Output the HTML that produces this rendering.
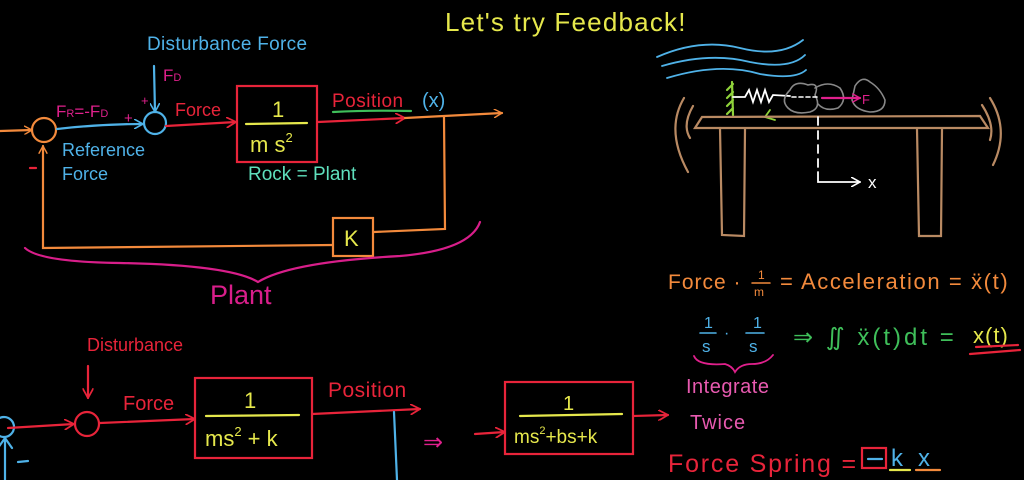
<!DOCTYPE html>
<html><head><meta charset="utf-8"><style>
html,body{margin:0;padding:0;background:#000;width:1024px;height:480px;overflow:hidden}
svg{display:block}
text{font-family:"Liberation Sans",sans-serif}
</style></head><body>
<svg width="1024" height="480" viewBox="0 0 1024 480" xmlns="http://www.w3.org/2000/svg">
<defs>
<marker id="ao" viewBox="0 0 10 10" refX="9" refY="5" markerWidth="9" markerHeight="9" orient="auto" markerUnits="userSpaceOnUse"><path d="M0,0 L9,5 L0,10" fill="none" stroke="#f38a3c" stroke-width="1.6"/></marker>
<marker id="ar" viewBox="0 0 10 10" refX="9" refY="5" markerWidth="11" markerHeight="11" orient="auto" markerUnits="userSpaceOnUse"><path d="M0,0 L9,5 L0,10" fill="none" stroke="#e8243a" stroke-width="1.6"/></marker>
<marker id="ab" viewBox="0 0 10 10" refX="9" refY="5" markerWidth="10" markerHeight="10" orient="auto" markerUnits="userSpaceOnUse"><path d="M0,0 L9,5 L0,10" fill="none" stroke="#4fb2e8" stroke-width="1.6"/></marker>
<marker id="aw" viewBox="0 0 10 10" refX="9" refY="5" markerWidth="10" markerHeight="10" orient="auto" markerUnits="userSpaceOnUse"><path d="M0,0 L9,5 L0,10" fill="none" stroke="#fff" stroke-width="1.6"/></marker>
<marker id="am" viewBox="0 0 10 10" refX="9" refY="5" markerWidth="9" markerHeight="9" orient="auto" markerUnits="userSpaceOnUse"><path d="M0,0 L9,5 L0,10" fill="none" stroke="#e0208c" stroke-width="1.6"/></marker>
</defs>
<g fill="none" stroke-linecap="round" stroke-width="2.2">
<text x="445" y="31" fill="#e6e84c" stroke="none" font-size="26" letter-spacing="1.2">Let's try Feedback!</text>

<text x="147" y="50" fill="#4fb2e8" stroke="none" font-size="19" letter-spacing="0.3">Disturbance Force</text>
<text x="163" y="81" fill="#e0208c" stroke="none" font-size="17">F<tspan font-size="11">D</tspan></text>
<path d="M154,66 L155,112" stroke="#4fb2e8" marker-end="url(#ab)"/>
<text x="141" y="105" fill="#e0208c" stroke="none" font-size="13">+</text>
<circle cx="155" cy="123" r="11" stroke="#4fb2e8"/>
<circle cx="44" cy="130" r="12" stroke="#f38a3c"/>
<path d="M0,131 L32,130" stroke="#f38a3c" marker-end="url(#ao)"/>
<path d="M57,129 Q100,124 143,124" stroke="#4fb2e8" marker-end="url(#ab)"/>
<text x="56" y="117" fill="#e0208c" stroke="none" font-size="17">F<tspan font-size="11">R</tspan>=-F<tspan font-size="11">D</tspan></text>
<text x="124" y="123" fill="#e0208c" stroke="none" font-size="15">+</text>
<text x="62" y="156" fill="#4fb2e8" stroke="none" font-size="18">Reference</text>
<text x="62" y="180" fill="#4fb2e8" stroke="none" font-size="18">Force</text>
<path d="M30,168 L36,168" stroke="#e8243a"/>
<path d="M166,126 L236,122" stroke="#e8243a" marker-end="url(#ar)"/>
<text x="175" y="116" fill="#e8243a" stroke="none" font-size="18">Force</text>
<rect x="237" y="86" width="80" height="76" stroke="#e8243a"/>
<text x="272" y="117" fill="#e6e84c" stroke="none" font-size="22">1</text>
<path d="M246,124 L307,123" stroke="#e6e84c"/>
<text x="250" y="152" fill="#e6e84c" stroke="none" font-size="22">m s<tspan font-size="13" dy="-10">2</tspan></text>
<text x="248" y="180" fill="#5fe0bd" stroke="none" font-size="19">Rock = Plant</text>
<path d="M318,122 L405,118" stroke="#e8243a" marker-end="url(#ar)"/>
<text x="332" y="107" fill="#e8243a" stroke="none" font-size="19" letter-spacing="0.5">Position</text>
<path d="M333,112 Q370,110 411,111" stroke="#3fbf5a"/>
<text x="422" y="107" fill="#4fb2e8" stroke="none" font-size="20">(x)</text>
<path d="M405,118 L502,113" stroke="#f38a3c" marker-end="url(#ao)"/>
<path d="M444,117 L445,229 L374,232" stroke="#f38a3c"/>
<rect x="333" y="218" width="40" height="38" stroke="#f38a3c"/>
<text x="344" y="246" fill="#e6e84c" stroke="none" font-size="22">K</text>
<path d="M333,245 L43,248 L43,146" stroke="#f38a3c" marker-end="url(#ao)"/>
<path d="M25,248 Q40,262 120,263 Q230,265 258,282 Q290,262 400,256 Q470,250 480,222" stroke="#d81e8a"/>
<text x="210" y="304" fill="#d81e8a" stroke="none" font-size="27">Plant</text>

<path d="M657,57 Q700,38 740,48 Q780,58 803,40" stroke="#4fb2e8" stroke-width="1.8"/>
<path d="M662,66 Q710,52 750,62 Q790,70 805,55" stroke="#4fb2e8" stroke-width="1.8"/>
<path d="M667,78 Q720,62 760,74 Q795,80 806,70" stroke="#4fb2e8" stroke-width="1.8"/>
<path d="M732,82 L733,115 M733,84 L727,90 M733,92 L727,98 M733,100 L727,106 M733,108 L727,114" stroke="#8fd33a"/>
<path d="M733,97 L745,97 L749,90 L753,102 L757,90 L761,102 L765,90 L769,102 L773,95 L790,96" stroke="#fff" stroke-width="1.8"/>
<path d="M770,110 L765,117 L775,120" stroke="#8fd33a" stroke-width="1.8"/>
<path d="M790,90 Q795,80 808,85 Q820,82 815,95 Q822,108 810,112 Q795,115 788,108 Q780,100 790,90 Z" stroke="#888" stroke-width="1.6"/>
<path d="M815,88 Q828,80 840,88 Q848,100 838,108 Q825,112 818,104" stroke="#888" stroke-width="1.6"/>
<path d="M855,86 Q862,75 870,82 Q880,88 885,100 Q885,112 870,112 Q855,110 852,100 Z" stroke="#888" stroke-width="1.6"/>
<path d="M792,97 L820,97" stroke="#fff" stroke-width="1.6" stroke-dasharray="4 3"/>
<path d="M822,98 L860,98" stroke="#e0208c" marker-end="url(#am)"/>
<text x="862" y="104" fill="#e0208c" stroke="none" font-size="13">F</text>
<path d="M695,128 L702,117 L980,116 L988,128 Z" stroke="#b98a63"/>
<path d="M720,128 L722,235 L744,236 L745,129" stroke="#b98a63"/>
<path d="M917,129 L919,236 L941,236 L942,129" stroke="#b98a63"/>
<path d="M684,98 Q665,130 688,172" stroke="#b98a63"/>
<path d="M693,106 Q682,125 690,138" stroke="#b98a63"/>
<path d="M990,98 Q1010,130 993,165" stroke="#b98a63"/>
<path d="M982,105 Q995,125 990,140" stroke="#b98a63"/>
<path d="M818,117 L818,172" stroke="#fff" stroke-width="1.8" stroke-dasharray="8 6"/>
<path d="M818,172 L818,182 L860,182" stroke="#fff" stroke-width="1.8" marker-end="url(#aw)"/>
<text x="868" y="188" fill="#fff" stroke="none" font-size="17">x</text>

<text x="668" y="289" fill="#f38a3c" stroke="none" font-size="21" letter-spacing="1">Force ·</text>
<text x="758" y="279" fill="#f38a3c" stroke="none" font-size="12">1</text>
<path d="M752,283 L770,283" stroke="#f38a3c" stroke-width="1.5"/>
<text x="754" y="296" fill="#f38a3c" stroke="none" font-size="12">m</text>
<text x="780" y="289" fill="#f38a3c" stroke="none" font-size="22" letter-spacing="1.6">= Acceleration = ẍ(t)</text>
<text x="704" y="328" fill="#4fb2e8" stroke="none" font-size="16">1</text>
<path d="M700,333 L716,333" stroke="#4fb2e8" stroke-width="1.6"/>
<text x="702" y="352" fill="#4fb2e8" stroke="none" font-size="17">s</text>
<text x="724" y="338" fill="#4fb2e8" stroke="none" font-size="16">·</text>
<text x="753" y="328" fill="#4fb2e8" stroke="none" font-size="16">1</text>
<path d="M746,333 L764,333" stroke="#4fb2e8" stroke-width="1.6"/>
<text x="749" y="352" fill="#4fb2e8" stroke="none" font-size="17">s</text>
<text x="793" y="345" fill="#3fbf5a" stroke="none" font-size="24" letter-spacing="3">⇒ ∬ ẍ(t)dt =</text>
<text x="973" y="343" fill="#e6e84c" stroke="none" font-size="22" letter-spacing="1">x(t)</text>
<path d="M976,347 L1018,345 M970,354 L1020,350" stroke="#e8243a"/>
<path d="M694,356 Q698,366 725,364 Q732,366 735,372 Q740,364 752,364 Q766,364 773,355" stroke="#e0208c" stroke-width="1.8"/>
<text x="686" y="393" fill="#e85ab0" stroke="none" font-size="20" letter-spacing="0.5">Integrate</text>
<text x="690" y="429" fill="#e85ab0" stroke="none" font-size="20" letter-spacing="1">Twice</text>
<text x="668" y="472" fill="#e8243a" stroke="none" font-size="25" letter-spacing="1.8">Force Spring =</text>
<rect x="862" y="448" width="24" height="20" stroke="#e8243a"/>
<path d="M868,459 L882,459" stroke="#4fb2e8"/>
<text x="891" y="466" fill="#4fb2e8" stroke="none" font-size="24">k</text>
<path d="M890,470 L910,470" stroke="#e6e84c"/>
<text x="918" y="466" fill="#4fb2e8" stroke="none" font-size="24">x</text>
<path d="M916,470 L940,470" stroke="#f38a3c"/>

<text x="87" y="351" fill="#e8243a" stroke="none" font-size="18">Disturbance</text>
<path d="M88,366 L88,398" stroke="#e8243a" marker-end="url(#ar)"/>
<circle cx="87" cy="424" r="12" stroke="#e8243a"/>
<circle cx="4" cy="427" r="10" stroke="#4fb2e8"/>
<path d="M5,440 L5,480 M-2,448 L5,438 L12,448" stroke="#4fb2e8"/>
<path d="M18,462 L28,461" stroke="#4fb2e8"/>
<path d="M8,428 L74,424" stroke="#e8243a" marker-end="url(#ar)"/>
<text x="123" y="410" fill="#e8243a" stroke="none" font-size="20">Force</text>
<path d="M100,423 L195,419" stroke="#e8243a" marker-end="url(#ar)"/>
<rect x="195" y="378" width="117" height="80" stroke="#e8243a"/>
<text x="244" y="408" fill="#e6e84c" stroke="none" font-size="22">1</text>
<path d="M206,416 L299,415" stroke="#e6e84c"/>
<text x="205" y="446" fill="#e6e84c" stroke="none" font-size="22">ms<tspan font-size="13" dy="-10">2</tspan><tspan dy="10"> + k</tspan></text>
<text x="328" y="397" fill="#e8243a" stroke="none" font-size="21" letter-spacing="0.5">Position</text>
<path d="M312,414 L420,409" stroke="#e8243a" marker-end="url(#ar)"/>
<path d="M394,412 L397,480" stroke="#4fb2e8"/>
<text x="423" y="450" fill="#e0208c" stroke="none" font-size="24">⇒</text>
<path d="M475,434 L505,432" stroke="#e8243a" marker-end="url(#ar)"/>
<rect x="505" y="382" width="128" height="72" stroke="#e8243a"/>
<text x="563" y="410" fill="#e6e84c" stroke="none" font-size="20">1</text>
<path d="M520,416 L622,414" stroke="#e6e84c"/>
<text x="514" y="443" fill="#e6e84c" stroke="none" font-size="19">ms<tspan font-size="11" dy="-9">2</tspan><tspan dy="9">+bs+k</tspan></text>
<path d="M633,416 L668,415" stroke="#e8243a" marker-end="url(#ar)"/>
</g>
</svg>
</body></html>
